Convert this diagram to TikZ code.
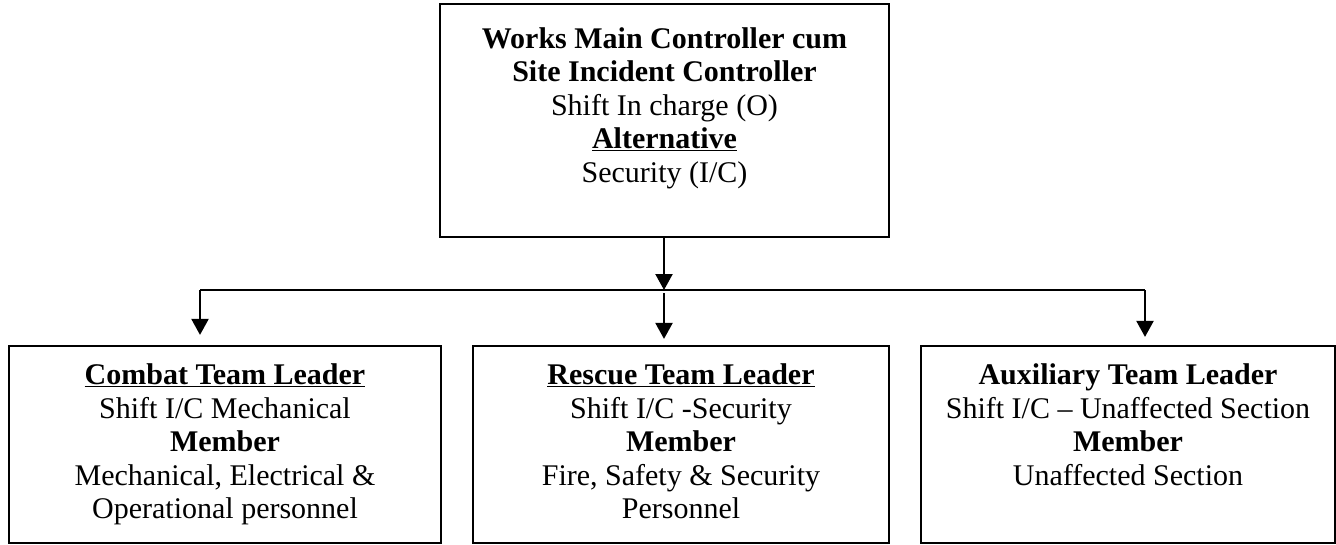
\documentclass[tikz,border=0pt]{standalone}
\usepackage{fontspec}
\setmainfont{Liberation Serif}
\usetikzlibrary{arrows.meta,calc}
\tikzset{
  box/.style={draw, line width=2.2pt, rectangle, inner sep=0pt},
  boxtext/.style={anchor=north, align=center, inner sep=0pt,
    font=\fontsize{30}{33.5}\selectfont},
  link/.style={line width=2.2pt},
  arr/.style={link, -{Triangle[length=16pt,width=17pt]}},
}
\begin{document}
\begin{tikzpicture}[x=1pt,y=-1pt]
\useasboundingbox (0,0) rectangle (1336,544);
% boxes
\node[box, minimum width=449pt, minimum height=233pt] (wmc) at (664.5,120.5) {};
\node[box, minimum width=432pt, minimum height=197pt] (ctl) at (225,444.5) {};
\node[box, minimum width=416pt, minimum height=197pt] (rtl) at (681,444.5) {};
\node[box, minimum width=414pt, minimum height=197pt] (atl) at (1128,444.5) {};
% texts
\node[boxtext] (wmct) at ($(wmc.north)+(0,24.5)$) {\textbf{Works Main Controller cum}\\\textbf{Site Incident Controller}\\Shift In charge (O)\\\underline{\textbf{Alternative}}\\Security (I/C)};
\node[boxtext] (ctlt) at ($(ctl.north)+(0,19)$) {\underline{\textbf{Combat Team Leader}}\\Shift I/C Mechanical\\\textbf{Member}\\Mechanical, Electrical \&\\Operational personnel};
\node[boxtext] (rtlt) at ($(rtl.north)+(0,19)$) {\underline{\textbf{Rescue Team Leader}}\\Shift I/C -Security\\\textbf{Member}\\Fire, Safety \& Security\\Personnel};
\node[boxtext] (atlt) at ($(atl.north)+(0,19)$) {\textbf{Auxiliary Team Leader}\\Shift I/C – Unaffected Section\\\textbf{Member}\\Unaffected Section};
% distribution line
\coordinate (bus) at (664,290);
\coordinate (busL) at (200,290);
\coordinate (busR) at (1145,290);
\draw[arr] (wmc.south -| bus) -- (bus);
\draw[link] (busL) -- (busR);
\draw[arr] (busL) -- ($(busL |- ctl.north)+(0,-10)$);
\draw[arr] ($(bus)+(0,3)$) -- ($(bus |- rtl.north)+(0,-6)$);
\draw[arr] (busR) -- ($(busR |- atl.north)+(0,-8)$);
\end{tikzpicture}
\end{document}
